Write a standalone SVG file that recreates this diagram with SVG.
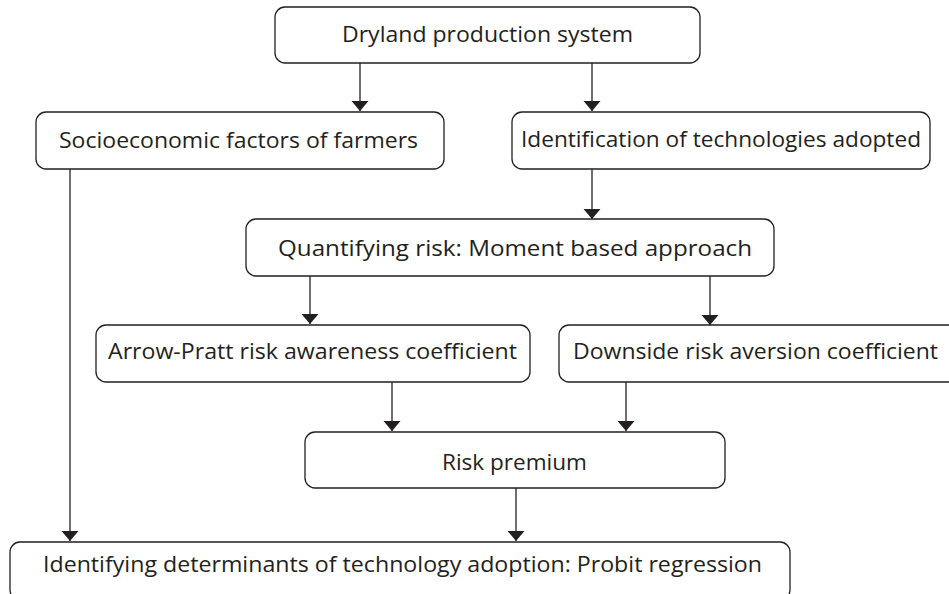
<svg xmlns="http://www.w3.org/2000/svg" width="949" height="594" viewBox="0 0 949 594">
<style>
.box{fill:#fff;stroke:#231f20;stroke-width:1.3}
.lbl{font-family:"Open Sans","Liberation Sans",sans-serif;font-size:22px;fill:#231f20}
.con{fill:none;stroke:#231f20;stroke-width:1.3}
</style>
<defs>
<marker id="ah" viewBox="0 -9 10 18" markerUnits="userSpaceOnUse" markerWidth="10" markerHeight="18" refX="10" refY="0" orient="auto">
<path d="M0,-8.5 L10,0 L0,8.5 Z" fill="#231f20"/>
</marker>
</defs>
<rect width="949" height="594" fill="#fff"/>
<g id="connectors">
<path class="con" d="M360,63 V111" marker-end="url(#ah)"/>
<path class="con" d="M592,63 V111" marker-end="url(#ah)"/>
<path class="con" d="M70,169 V541" marker-end="url(#ah)"/>
<path class="con" d="M592,169 V219" marker-end="url(#ah)"/>
<path class="con" d="M310,276 V324" marker-end="url(#ah)"/>
<path class="con" d="M710,276 V325" marker-end="url(#ah)"/>
<path class="con" d="M392,382 V431" marker-end="url(#ah)"/>
<path class="con" d="M626,382 V431" marker-end="url(#ah)"/>
<path class="con" d="M516,488 V541" marker-end="url(#ah)"/>
</g>
<g id="n1">
<rect class="box" x="275" y="7" width="425" height="56" rx="10"/>
<text class="lbl" x="487.5" y="42" text-anchor="middle" textLength="291" lengthAdjust="spacingAndGlyphs">Dryland production system</text>
</g>
<g id="n2">
<rect class="box" x="36" y="112" width="408" height="57" rx="10"/>
<text class="lbl" x="238.5" y="148" text-anchor="middle" textLength="359" lengthAdjust="spacingAndGlyphs">Socioeconomic factors of farmers</text>
</g>
<g id="n3">
<rect class="box" x="512" y="112" width="418" height="57" rx="10"/>
<text class="lbl" x="721" y="147" text-anchor="middle" textLength="400" lengthAdjust="spacingAndGlyphs">Identification of technologies adopted</text>
</g>
<g id="n4">
<rect class="box" x="246" y="219" width="528" height="57" rx="10"/>
<text class="lbl" x="515" y="256" text-anchor="middle" textLength="474" lengthAdjust="spacingAndGlyphs">Quantifying risk: Moment based approach</text>
</g>
<g id="n5">
<rect class="box" x="96" y="325" width="434" height="57" rx="10"/>
<text class="lbl" x="312.5" y="359" text-anchor="middle" textLength="409" lengthAdjust="spacingAndGlyphs">Arrow-Pratt risk awareness coefficient</text>
</g>
<g id="n6">
<rect class="box" x="559" y="325" width="400" height="57" rx="10"/>
<text class="lbl" x="755.5" y="359" text-anchor="middle" textLength="365" lengthAdjust="spacingAndGlyphs">Downside risk aversion coefficient</text>
</g>
<g id="n7">
<rect class="box" x="305" y="432" width="420" height="56" rx="10"/>
<text class="lbl" x="514.5" y="470" text-anchor="middle" textLength="145" lengthAdjust="spacingAndGlyphs">Risk premium</text>
</g>
<g id="n8">
<rect class="box" x="10" y="542" width="780" height="58" rx="10"/>
<text class="lbl" x="402.5" y="572" text-anchor="middle" textLength="719" lengthAdjust="spacingAndGlyphs">Identifying determinants of technology adoption: Probit regression</text>
</g>
</svg>
